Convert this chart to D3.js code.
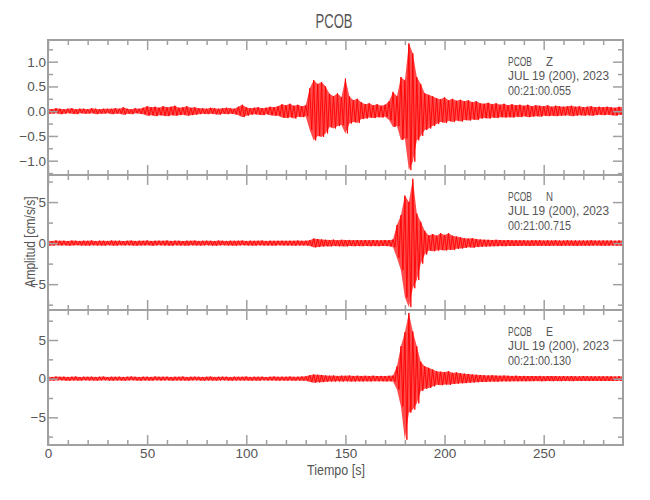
<!DOCTYPE html>
<html><head><meta charset="utf-8">
<script src="https://cdn.jsdelivr.net/npm/d3@7"></script>
<style>
html,body{margin:0;padding:0;background:#fff;}
svg text{font-family:"Liberation Sans",Arial,sans-serif;fill:#555;}
</style></head>
<body><svg id="c" width="650" height="500"></svg>
<script>
// ---- data (envelope peaks, one pair every 2 s) ----
const timeStart = 0, timeStep = 2, timeEnd = 290;
const xTicksMajor = [0, 50, 100, 150, 200, 250];
const xTicksMinor = [10,20,30,40,60,70,80,90,110,120,130,140,160,170,180,190,210,220,230,240,260,270,280];
const stationName = "PCOB";
const components = ["Z", "N", "E"];
const dateLine = "JUL 19 (200), 2023";
const startTimes = ["00:21:00.055", "00:21:00.715", "00:21:00.130"];
const yDomainZ = [-1.289, 1.438], yDomainN = [-8.15, 8.3], yDomainE = [-8.58, 8.88];
const yMajorZ = [-1.0, -0.5, 0.0, 0.5, 1.0], yMinorZ = [-1.25, -0.75, -0.25, 0.25, 0.75, 1.25];
const yMajorNE = [-5, 0, 5], yMinorNE = [-7.5, -2.5, 2.5, 7.5];

const zHi = [0.05,0.04,0.06,0.05,0.04,0.05,0.06,0.04,0.05,0.05,
 0.04,0.06,0.05,0.04,0.05,0.05,0.05,0.06,0.05,0.08,
 0.05,0.04,0.06,0.05,0.07,0.10,0.08,0.09,0.07,0.10,
 0.08,0.09,0.11,0.07,0.08,0.10,0.07,0.08,0.06,0.06,
 0.05,0.07,0.06,0.05,0.06,0.07,0.06,0.05,0.09,0.13,
 0.08,0.06,0.07,0.08,0.06,0.07,0.09,0.08,0.10,0.14,
 0.12,0.15,0.11,0.13,0.10,0.12,0.46,0.63,0.55,0.59,
 0.50,0.35,0.30,0.36,0.28,0.66,0.30,0.22,0.25,0.18,
 0.14,0.16,0.12,0.14,0.11,0.13,0.20,0.39,0.30,0.69,
 0.62,1.37,1.17,0.69,0.55,0.36,0.33,0.30,0.26,0.24,
 0.28,0.22,0.25,0.21,0.23,0.20,0.22,0.18,0.20,0.16,
 0.15,0.17,0.14,0.16,0.13,0.15,0.12,0.14,0.12,0.13,
 0.11,0.13,0.10,0.12,0.11,0.10,0.12,0.09,0.11,0.10,
 0.09,0.10,0.11,0.09,0.10,0.08,0.09,0.10,0.08,0.09,
 0.08,0.09,0.08,0.07,0.09,0.08];
const zLo = [-0.05,-0.05,-0.04,-0.06,-0.05,-0.04,-0.05,-0.06,-0.04,-0.05,
 -0.05,-0.04,-0.06,-0.05,-0.05,-0.04,-0.06,-0.05,-0.05,-0.07,
 -0.05,-0.06,-0.04,-0.05,-0.06,-0.09,-0.08,-0.10,-0.08,-0.09,
 -0.10,-0.08,-0.09,-0.08,-0.07,-0.09,-0.08,-0.07,-0.06,-0.05,
 -0.06,-0.05,-0.06,-0.07,-0.05,-0.06,-0.05,-0.06,-0.08,-0.12,
 -0.09,-0.07,-0.06,-0.07,-0.08,-0.06,-0.08,-0.09,-0.09,-0.13,
 -0.14,-0.12,-0.15,-0.11,-0.12,-0.10,-0.38,-0.59,-0.50,-0.52,
 -0.45,-0.32,-0.35,-0.30,-0.28,-0.45,-0.25,-0.22,-0.24,-0.16,
 -0.15,-0.13,-0.14,-0.12,-0.13,-0.11,-0.18,-0.32,-0.30,-0.58,
 -0.55,-1.19,-1.02,-0.59,-0.50,-0.38,-0.35,-0.30,-0.26,-0.22,
 -0.24,-0.20,-0.22,-0.19,-0.21,-0.18,-0.19,-0.17,-0.18,-0.15,
 -0.14,-0.15,-0.13,-0.14,-0.12,-0.13,-0.12,-0.13,-0.11,-0.12,
 -0.10,-0.12,-0.11,-0.10,-0.11,-0.09,-0.10,-0.09,-0.10,-0.09,
 -0.09,-0.08,-0.10,-0.09,-0.08,-0.09,-0.08,-0.09,-0.08,-0.07,
 -0.08,-0.07,-0.08,-0.09,-0.07,-0.08];

const nHi = [0.30,0.25,0.32,0.28,0.30,0.26,0.31,0.29,0.27,0.30,
 0.28,0.32,0.26,0.30,0.29,0.27,0.31,0.28,0.30,0.26,
 0.29,0.31,0.27,0.30,0.28,0.32,0.27,0.29,0.30,0.28,
 0.31,0.27,0.30,0.29,0.26,0.30,0.28,0.31,0.27,0.29,
 0.30,0.28,0.26,0.31,0.29,0.27,0.30,0.28,0.29,0.31,
 0.27,0.30,0.28,0.29,0.31,0.27,0.30,0.28,0.29,0.30,
 0.28,0.30,0.29,0.31,0.28,0.30,0.35,0.55,0.50,0.45,
 0.40,0.38,0.42,0.36,0.40,0.37,0.39,0.35,0.38,0.36,
 0.37,0.35,0.38,0.36,0.34,0.37,0.35,0.45,2.2,3.4,
 5.8,5.0,7.85,3.6,2.6,1.5,0.94,1.1,0.9,1.2,
 1.0,1.2,0.9,0.8,0.7,0.6,0.55,0.6,0.5,0.45,
 0.42,0.40,0.38,0.40,0.37,0.36,0.38,0.35,0.36,0.34,
 0.35,0.33,0.36,0.34,0.35,0.32,0.34,0.33,0.35,0.32,
 0.33,0.34,0.32,0.33,0.31,0.33,0.32,0.34,0.31,0.32,
 0.33,0.31,0.32,0.30,0.32,0.31];
const nLo = [-0.28,-0.31,-0.26,-0.30,-0.27,-0.32,-0.28,-0.26,-0.30,-0.29,
 -0.31,-0.27,-0.29,-0.28,-0.32,-0.26,-0.29,-0.31,-0.27,-0.30,
 -0.27,-0.29,-0.31,-0.28,-0.30,-0.26,-0.31,-0.28,-0.27,-0.30,
 -0.29,-0.32,-0.27,-0.30,-0.28,-0.31,-0.27,-0.29,-0.30,-0.28,
 -0.27,-0.30,-0.31,-0.28,-0.26,-0.30,-0.29,-0.31,-0.28,-0.27,
 -0.30,-0.28,-0.31,-0.27,-0.29,-0.30,-0.28,-0.31,-0.27,-0.29,
 -0.30,-0.28,-0.31,-0.29,-0.30,-0.28,-0.36,-0.52,-0.48,-0.42,
 -0.38,-0.40,-0.36,-0.39,-0.37,-0.40,-0.35,-0.38,-0.36,-0.37,
 -0.35,-0.38,-0.36,-0.37,-0.35,-0.36,-0.38,-0.50,-1.8,-3.3,
 -6.6,-7.8,-5.5,-4.5,-2.5,-1.4,-0.9,-1.0,-0.9,-0.85,
 -0.9,-0.8,-0.85,-0.7,-0.65,-0.6,-0.5,-0.55,-0.48,-0.45,
 -0.42,-0.40,-0.38,-0.39,-0.36,-0.37,-0.35,-0.36,-0.34,-0.35,
 -0.33,-0.35,-0.34,-0.32,-0.34,-0.33,-0.35,-0.32,-0.33,-0.34,
 -0.32,-0.33,-0.31,-0.34,-0.32,-0.31,-0.33,-0.32,-0.30,-0.32,
 -0.31,-0.32,-0.30,-0.31,-0.32,-0.30];

const eHi = [0.25,0.22,0.27,0.24,0.26,0.23,0.25,0.27,0.22,0.25,
 0.24,0.26,0.23,0.25,0.27,0.22,0.25,0.24,0.26,0.23,
 0.25,0.27,0.24,0.22,0.26,0.25,0.23,0.27,0.24,0.25,
 0.26,0.23,0.25,0.24,0.27,0.22,0.25,0.26,0.24,0.23,
 0.25,0.27,0.23,0.24,0.26,0.25,0.22,0.26,0.24,0.25,
 0.27,0.23,0.25,0.24,0.26,0.22,0.25,0.27,0.24,0.26,
 0.25,0.27,0.24,0.26,0.28,0.30,0.45,0.55,0.50,0.48,
 0.42,0.38,0.40,0.36,0.39,0.37,0.40,0.36,0.38,0.35,
 0.37,0.35,0.38,0.34,0.36,0.35,0.37,0.40,1.6,4.2,
 6.0,8.5,6.1,4.2,2.2,1.6,1.4,1.2,0.95,0.9,
 0.85,0.95,0.75,0.8,0.7,0.65,0.6,0.55,0.5,0.48,
 0.45,0.42,0.44,0.40,0.38,0.40,0.37,0.36,0.38,0.35,
 0.36,0.34,0.35,0.33,0.36,0.32,0.34,0.33,0.35,0.32,
 0.33,0.31,0.34,0.32,0.30,0.33,0.31,0.32,0.30,0.31,
 0.32,0.30,0.31,0.29,0.31,0.30];
const eLo = [-0.23,-0.26,-0.24,-0.22,-0.25,-0.27,-0.23,-0.24,-0.26,-0.22,
 -0.25,-0.23,-0.26,-0.24,-0.22,-0.25,-0.27,-0.23,-0.24,-0.26,
 -0.24,-0.22,-0.25,-0.27,-0.23,-0.24,-0.26,-0.22,-0.25,-0.24,
 -0.22,-0.26,-0.24,-0.25,-0.23,-0.27,-0.24,-0.22,-0.25,-0.26,
 -0.24,-0.23,-0.26,-0.25,-0.22,-0.24,-0.27,-0.23,-0.25,-0.24,
 -0.23,-0.26,-0.24,-0.27,-0.22,-0.25,-0.24,-0.23,-0.26,-0.24,
 -0.26,-0.24,-0.27,-0.25,-0.26,-0.28,-0.42,-0.52,-0.48,-0.45,
 -0.40,-0.36,-0.38,-0.35,-0.37,-0.34,-0.36,-0.38,-0.35,-0.36,
 -0.34,-0.36,-0.33,-0.35,-0.34,-0.36,-0.35,-0.38,-1.4,-3.6,
 -7.9,-4.4,-4.0,-3.2,-1.6,-1.3,-1.2,-1.0,-0.8,-0.85,
 -0.75,-0.8,-0.7,-0.65,-0.6,-0.58,-0.52,-0.5,-0.46,-0.44,
 -0.42,-0.40,-0.38,-0.39,-0.36,-0.35,-0.36,-0.34,-0.35,-0.33,
 -0.34,-0.32,-0.33,-0.31,-0.33,-0.32,-0.31,-0.33,-0.30,-0.32,
 -0.31,-0.30,-0.32,-0.30,-0.31,-0.29,-0.31,-0.30,-0.29,-0.30,
 -0.30,-0.29,-0.31,-0.30,-0.28,-0.30];

// ---- layout ----
const svg = d3.select("#c");
const left = 48, right = 623, panelH = 135, tops = [40, 175, 310];
const axisColor = "#a0a0a0";
const x = d3.scaleLinear().domain([timeStart, timeEnd]).range([left, right]);

const panels = [
  {comp: components[0], hi: zHi, lo: zLo, dom: yDomainZ, major: yMajorZ, minor: yMinorZ, fmt: d3.format(".1f"), start: startTimes[0]},
  {comp: components[1], hi: nHi, lo: nLo, dom: yDomainN, major: yMajorNE, minor: yMinorNE, fmt: d3.format("d"), start: startTimes[1]},
  {comp: components[2], hi: eHi, lo: eLo, dom: yDomainE, major: yMajorNE, minor: yMinorNE, fmt: d3.format("d"), start: startTimes[2]}
];

svg.append("text").attr("x", 334).attr("y", 28).attr("text-anchor", "middle")
  .attr("font-size", 20).attr("textLength", 37).attr("lengthAdjust", "spacingAndGlyphs").text(stationName);

function styleAxis(g) {
  g.select(".domain").remove();
  g.selectAll(".tick line").attr("stroke", axisColor).attr("stroke-width", 1.5);
}

panels.forEach((p, k) => {
  const top = tops[k];
  const y = d3.scaleLinear().domain(p.dom).range([top + panelH, top]);
  const g = svg.append("g");
  const clipId = "clip" + k;
  svg.append("clipPath").attr("id", clipId).append("rect")
    .attr("x", left).attr("y", top).attr("width", right - left).attr("height", panelH);

  // trace: filled envelope + zig-zag between peaks
  const idx = d3.range(p.hi.length);
  const tOf = i => timeStart + i * timeStep;
  g.append("path").attr("clip-path", `url(#${clipId})`)
    .attr("d", d3.area().x(i => x(tOf(i))).y0(i => y(p.lo[i])).y1(i => y(p.hi[i]))(idx))
    .attr("fill", "#ff0000").attr("fill-opacity", 0.7);
  const pts = [];
  idx.forEach(i => {
    pts.push([x(tOf(i)), y(p.hi[i])]);
    pts.push([x(tOf(i) + timeStep / 2), y(p.lo[i])]);
  });
  g.append("path").attr("clip-path", `url(#${clipId})`)
    .attr("d", d3.line()(pts)).attr("fill", "none")
    .attr("stroke", "#ff0000").attr("stroke-width", 0.9).attr("stroke-linejoin", "round");

  // frame
  g.append("rect").attr("x", left).attr("y", top).attr("width", right - left).attr("height", panelH)
    .attr("fill", "none").attr("stroke", axisColor).attr("stroke-width", 2);

  // x ticks (inward) top and bottom
  [[xTicksMajor, 10], [xTicksMinor, 5]].forEach(([vals, len]) => {
    g.append("g").attr("transform", `translate(0,${top})`)
      .call(d3.axisBottom(x).tickValues(vals).tickSize(len).tickFormat("")).call(styleAxis);
    g.append("g").attr("transform", `translate(0,${top + panelH})`)
      .call(d3.axisTop(x).tickValues(vals).tickSize(len).tickFormat("")).call(styleAxis);
  });
  // y ticks (inward) left and right
  [[p.major, 10], [p.minor, 5]].forEach(([vals, len]) => {
    g.append("g").attr("transform", `translate(${left},0)`)
      .call(d3.axisRight(y).tickValues(vals).tickSize(len).tickFormat("")).call(styleAxis);
    g.append("g").attr("transform", `translate(${right},0)`)
      .call(d3.axisLeft(y).tickValues(vals).tickSize(len).tickFormat("")).call(styleAxis);
  });
  // y labels
  const yl = g.append("g").attr("transform", `translate(${left},0)`)
    .call(d3.axisLeft(y).tickValues(p.major).tickSize(0).tickPadding(2).tickFormat(p.fmt));
  yl.select(".domain").remove();
  yl.selectAll("text").attr("font-size", 13.5).attr("font-family", null).style("fill", "#555");

  // annotation
  const ann = g.append("g").attr("font-size", 12.5);
  ann.append("text").attr("x", 508).attr("y", top + 26).attr("textLength", 24).attr("lengthAdjust", "spacingAndGlyphs").text(stationName);
  ann.append("text").attr("x", 546).attr("y", top + 26).attr("textLength", 7).attr("lengthAdjust", "spacingAndGlyphs").text(p.comp);
  ann.append("text").attr("x", 508).attr("y", top + 40).attr("textLength", 101).attr("lengthAdjust", "spacingAndGlyphs").text(dateLine);
  ann.append("text").attr("x", 508).attr("y", top + 55).attr("textLength", 63).attr("lengthAdjust", "spacingAndGlyphs").text(p.start);
});

// x labels on bottom panel
const xl = svg.append("g").attr("transform", `translate(0,${tops[2] + panelH})`)
  .call(d3.axisBottom(x).tickValues(xTicksMajor).tickSize(0).tickPadding(3));
xl.select(".domain").remove();
xl.selectAll("text").attr("font-size", 13.5).attr("font-family", null).style("fill", "#555");

svg.append("text").attr("x", 336).attr("y", 475).attr("text-anchor", "middle")
  .attr("font-size", 14).attr("textLength", 58).attr("lengthAdjust", "spacingAndGlyphs").text("Tiempo [s]");
svg.append("text").attr("transform", "translate(35,242) rotate(-90)").attr("text-anchor", "middle")
  .attr("font-size", 14).attr("textLength", 91).attr("lengthAdjust", "spacingAndGlyphs").text("Amplitud [cm/s/s]");
</script></body></html>
